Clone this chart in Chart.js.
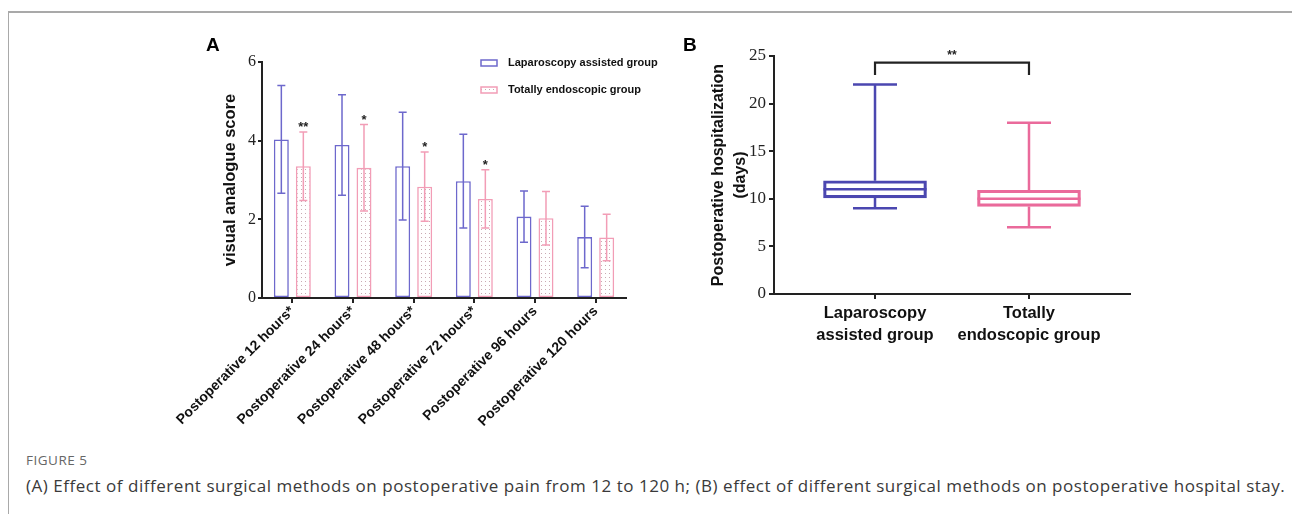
<!DOCTYPE html>
<html>
<head>
<meta charset="utf-8">
<script src="https://cdn.jsdelivr.net/npm/chart.js@4.4.1/dist/chart.umd.min.js"></script>
<style>
  body { margin: 0; background: #fff; width: 1292px; height: 514px; overflow: hidden; position: relative; }
  #frame { position: absolute; left: 8px; top: 11px; right: -4px; bottom: -4px; border-top: 2px solid #a9a9a9; border-left: 1px solid #a9a9a9; }
  .wrap { position: absolute; top: 0; }
  .letter { position: absolute; font: bold 19px "Liberation Sans", Arial, sans-serif; color: #000; }
  #figLabel { position: absolute; left: 26px; top: 451px; font: 13.5px "Open Sans", sans-serif; color: #666; letter-spacing: 0.5px; }
  #caption { position: absolute; left: 26px; top: 474px; font: 17px "Open Sans", sans-serif; color: #3a3a3a; white-space: nowrap; letter-spacing: 0.53px; }
</style>
</head>
<body>
<div id="frame"></div>
<div class="wrap" style="left:0;width:680px;height:440px"><canvas id="chartA"></canvas></div>
<div class="wrap" style="left:680px;width:470px;height:380px"><canvas id="chartB"></canvas></div>
<div class="letter" style="left:206px;top:34px">A</div>
<div class="letter" style="left:683px;top:34px">B</div>
<div id="figLabel">FIGURE 5</div>
<div id="caption">(A) Effect of different surgical methods on postoperative pain from 12 to 120 h; (B) effect of different surgical methods on postoperative hospital stay.</div>
<script>
// panel A: visual analogue score, mean and SD
const timePoints = ['Postoperative 12 hours*', 'Postoperative 24 hours*', 'Postoperative 48 hours*',
                    'Postoperative 72 hours*', 'Postoperative 96 hours', 'Postoperative 120 hours'];
const lapMean = [4.03, 3.89, 3.35, 2.97, 2.07, 1.55];
const lapSd   = [1.37, 1.28, 1.37, 1.19, 0.65, 0.78];
const totMean = [3.35, 3.31, 2.83, 2.52, 2.03, 1.54];
const totSd   = [0.87, 1.10, 0.88, 0.74, 0.68, 0.59];
const stars   = ['**', '*', '*', '*', '', ''];

// panel B: postoperative hospitalization (days), box plot
const groups     = [['Laparoscopy', 'assisted group'], ['Totally', 'endoscopic group']];
const stayMin    = [9, 7];
const stayQ1     = [10.1, 9.2];
const stayMedian = [11, 10];
const stayQ3     = [11.9, 10.9];
const stayMax    = [22, 18];
const sigLabel   = '**';
const sigTop     = 24.3;
const sigLeg     = 23;

const SANS = '"Liberation Sans", Arial, sans-serif';
const SERIF = '"Liberation Serif", "Times New Roman", serif';
const AXIS = '#222';

function dotPattern(ctx) {
    const c = document.createElement('canvas');
    c.width = 4; c.height = 4;
    const g = c.getContext('2d');
    g.fillStyle = '#fff';
    g.fillRect(0, 0, 4, 4);
    g.fillStyle = '#c9aab3';
    g.fillRect(1, 1, 1, 1);
    return ctx.createPattern(c, 'repeat');
}

const errorBars = {
    id: 'errorBars',
    afterDatasetsDraw(chart) {
        const { ctx, scales: { y } } = chart;
        chart.data.datasets.forEach((ds, i) => {
            chart.getDatasetMeta(i).data.forEach((bar, j) => {
                const top = y.getPixelForValue(ds.data[j] + ds.sd[j]);
                const bot = y.getPixelForValue(ds.data[j] - ds.sd[j]);
                ctx.save();
                ctx.strokeStyle = ds.borderColor;
                ctx.lineWidth = 1.5;
                ctx.beginPath();
                ctx.moveTo(bar.x, top); ctx.lineTo(bar.x, bot);
                ctx.moveTo(bar.x - 4, top); ctx.lineTo(bar.x + 4, top);
                ctx.moveTo(bar.x - 4, bot); ctx.lineTo(bar.x + 4, bot);
                ctx.stroke();
                if (ds.stars && ds.stars[j]) {
                    ctx.fillStyle = '#222';
                    ctx.font = 'bold 13px ' + SANS;
                    ctx.textAlign = 'center';
                    ctx.textBaseline = 'alphabetic';
                    ctx.fillText(ds.stars[j], bar.x, top - 1);
                }
                ctx.restore();
            });
        });
    }
};

const boxLegend = {
    id: 'boxLegend',
    afterDraw(chart) {
        const { ctx } = chart;
        chart.data.datasets.forEach((ds, i) => {
            const x = 481, y = 60 + i * 27;
            ctx.save();
            ctx.fillStyle = ds.backgroundColor;
            ctx.fillRect(x, y, 16, 6);
            ctx.strokeStyle = ds.borderColor;
            ctx.lineWidth = 1.5;
            ctx.strokeRect(x, y, 16, 6);
            ctx.fillStyle = '#111';
            ctx.font = 'bold 11px ' + SANS;
            ctx.textBaseline = 'middle';
            ctx.fillText(ds.label, x + 27, y + 3);
            ctx.restore();
        });
    }
};

const ctxA = document.getElementById('chartA').getContext('2d');
new Chart(ctxA, {
    type: 'bar',
    data: {
        labels: timePoints,
        datasets: [{
            label: 'Laparoscopy assisted group',
            data: lapMean,
            sd: lapSd,
            backgroundColor: '#fff',
            borderColor: '#6d68cc',
            borderWidth: 1.6,
            borderSkipped: false
        }, {
            label: 'Totally endoscopic group',
            data: totMean,
            sd: totSd,
            stars: stars,
            backgroundColor: dotPattern(ctxA),
            borderColor: '#f29db6',
            borderWidth: 1.6,
            borderSkipped: false
        }]
    },
    options: {
        responsive: true,
        maintainAspectRatio: false,
        animation: false,
        devicePixelRatio: 1,
        layout: { padding: { left: 217, top: 62, right: 54, bottom: 0 } },
        categoryPercentage: 0.725,
        barPercentage: 0.68,
        plugins: { legend: { display: false }, tooltip: { enabled: false } },
        scales: {
            x: {
                afterFit: s => { s.height = 142; },
                border: { color: AXIS, width: 2 },
                grid: { drawOnChartArea: false, offset: false, color: AXIS, lineWidth: 2, tickLength: 5 },
                ticks: {
                    autoSkip: false, minRotation: 45, maxRotation: 45, padding: 0,
                    color: '#111', font: { family: SANS, size: 14, weight: 'bold' }
                }
            },
            y: {
                min: 0, max: 6,
                afterFit: s => { s.width = 45; },
                border: { color: AXIS, width: 2 },
                grid: { drawOnChartArea: false, color: AXIS, lineWidth: 2, tickLength: 4 },
                ticks: { stepSize: 2, padding: 2, color: '#222', font: { family: SERIF, size: 16 } },
                title: {
                    display: true, text: 'visual analogue score', color: '#111',
                    padding: { top: 4, bottom: 0 },
                    font: { family: SANS, size: 16.5, weight: 'bold' }
                }
            }
        }
    },
    plugins: [errorBars, boxLegend]
});

const boxWhiskers = {
    id: 'boxWhiskers',
    afterDatasetsDraw(chart) {
        const { ctx, scales: { x, y } } = chart;
        const ds = chart.data.datasets[0];
        chart.getDatasetMeta(0).data.forEach((bar, i) => {
            const half = bar.width / 2;
            ctx.save();
            ctx.strokeStyle = ds.borderColor[i];
            ctx.lineWidth = 2.5;
            ctx.beginPath();
            ctx.moveTo(bar.x - half, y.getPixelForValue(stayMedian[i]));
            ctx.lineTo(bar.x + half, y.getPixelForValue(stayMedian[i]));
            ctx.moveTo(bar.x, y.getPixelForValue(stayQ3[i]));
            ctx.lineTo(bar.x, y.getPixelForValue(stayMax[i]));
            ctx.moveTo(bar.x - 22, y.getPixelForValue(stayMax[i]));
            ctx.lineTo(bar.x + 22, y.getPixelForValue(stayMax[i]));
            ctx.moveTo(bar.x, y.getPixelForValue(stayQ1[i]));
            ctx.lineTo(bar.x, y.getPixelForValue(stayMin[i]));
            ctx.moveTo(bar.x - 22, y.getPixelForValue(stayMin[i]));
            ctx.lineTo(bar.x + 22, y.getPixelForValue(stayMin[i]));
            ctx.stroke();
            ctx.restore();
        });
        // significance bracket
        const x1 = x.getPixelForValue(1), x2 = x.getPixelForValue(2);
        const yt = y.getPixelForValue(sigTop), yl = y.getPixelForValue(sigLeg);
        ctx.save();
        ctx.strokeStyle = '#222';
        ctx.lineWidth = 2.2;
        ctx.beginPath();
        ctx.moveTo(x1, yl); ctx.lineTo(x1, yt); ctx.lineTo(x2, yt); ctx.lineTo(x2, yl);
        ctx.stroke();
        ctx.fillStyle = '#222';
        ctx.font = 'bold 12px ' + SANS;
        ctx.textAlign = 'center';
        ctx.textBaseline = 'alphabetic';
        ctx.fillText(sigLabel, (x1 + x2) / 2, yt - 4);
        ctx.restore();
    }
};

new Chart(document.getElementById('chartB'), {
    type: 'bar',
    data: {
        datasets: [{
            data: groups.map((g, i) => ({ x: i + 1, y: [stayQ1[i], stayQ3[i]] })),
            backgroundColor: 'rgba(0,0,0,0)',
            borderColor: ['#4b47b0', '#ea6a9b'],
            borderWidth: 2.5,
            borderSkipped: false,
            barThickness: 103
        }]
    },
    options: {
        responsive: true,
        maintainAspectRatio: false,
        animation: false,
        devicePixelRatio: 1,
        layout: { padding: { left: 23, top: 56, right: 20, bottom: 0 } },
        plugins: { legend: { display: false }, tooltip: { enabled: false } },
        scales: {
            x: {
                type: 'linear', min: 0.344, max: 2.656, offset: false,
                afterFit: s => { s.height = 86; },
                afterBuildTicks: s => { s.ticks = groups.map((g, i) => ({ value: i + 1 })); },
                border: { color: AXIS, width: 2 },
                grid: { drawOnChartArea: false, offset: false, color: AXIS, lineWidth: 2, tickLength: 5 },
                ticks: {
                    autoSkip: false, maxRotation: 0, padding: 4, color: '#111',
                    callback: (v, i) => groups[i],
                    font: { family: SANS, size: 16.5, weight: 'bold', lineHeight: 1.3 }
                }
            },
            y: {
                min: 0, max: 25,
                afterFit: s => { s.width = 71; },
                border: { color: AXIS, width: 2 },
                grid: { drawOnChartArea: false, color: AXIS, lineWidth: 2, tickLength: 5 },
                ticks: { stepSize: 5, padding: 3, color: '#222', font: { family: SERIF, size: 17 } },
                title: {
                    display: true, text: ['Postoperative hospitalization', '(days)'], color: '#111',
                    padding: { top: 4, bottom: 0 },
                    font: { family: SANS, size: 16, weight: 'bold', lineHeight: 1.4 }
                }
            }
        }
    },
    plugins: [boxWhiskers]
});
</script>
</body>
</html>
